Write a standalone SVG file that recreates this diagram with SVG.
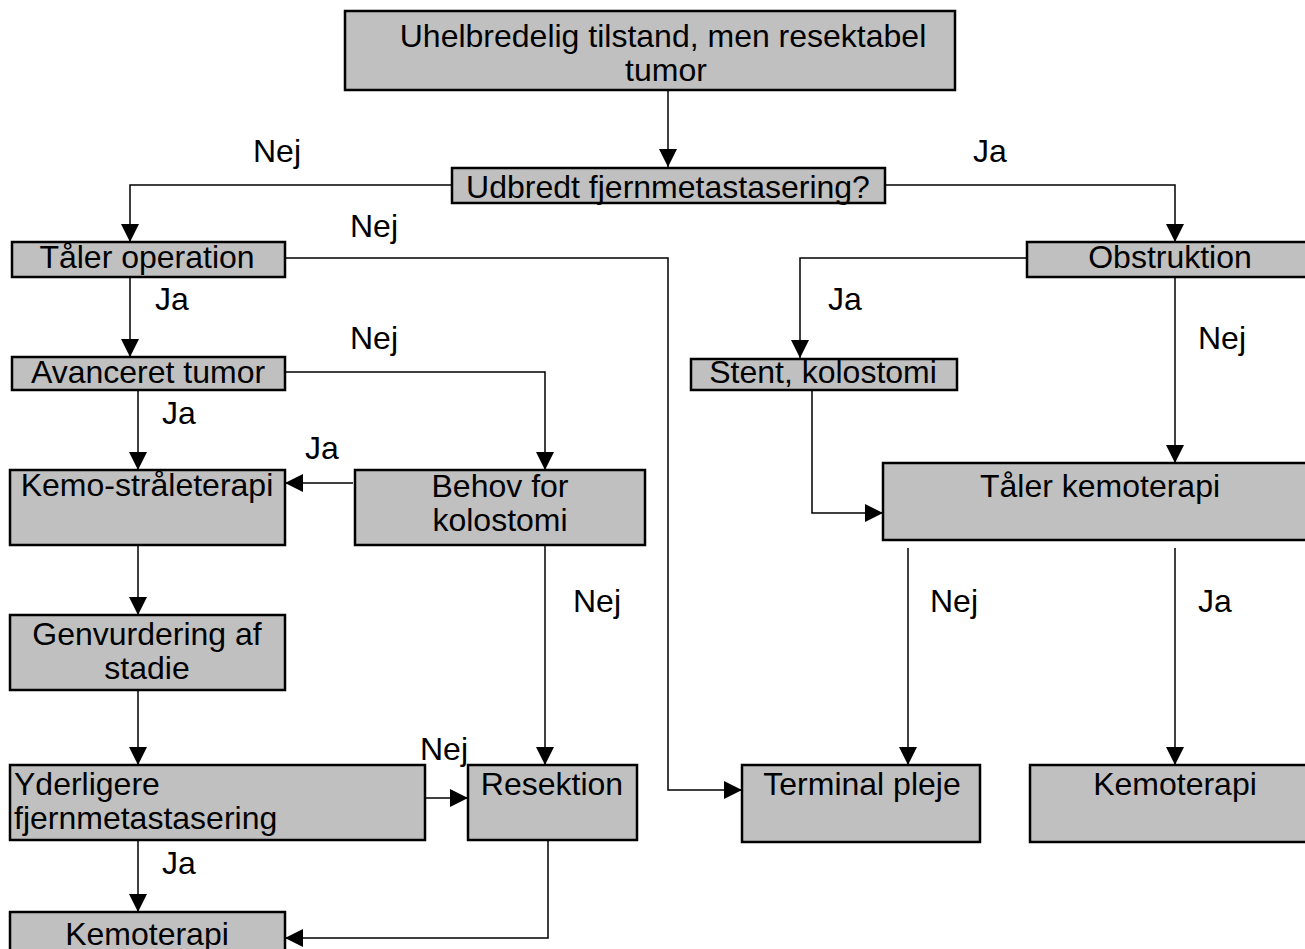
<svg xmlns="http://www.w3.org/2000/svg" width="1305" height="949" viewBox="0 0 1305 949">
<defs>
<marker id="ah" viewBox="0 0 10 10" refX="10" refY="5" markerWidth="18" markerHeight="18" markerUnits="userSpaceOnUse" orient="auto">
<path d="M0,0 L10,5 L0,10 z" fill="#000"/>
</marker>
<style>
.box{fill:#c0c0c0;stroke:#000;stroke-width:2.5}
.t{font-family:"Liberation Sans",Arial,sans-serif;font-size:32px;fill:#000}
.c{text-anchor:middle}
.ln{fill:none;stroke:#000;stroke-width:1.5;marker-end:url(#ah)}
</style>
</defs>
<rect width="1305" height="949" fill="#fff"/>
<g id="connectors">
<path class="ln" d="M668,90 V167"/>
<path class="ln" d="M452,185 H130 V242"/>
<path class="ln" d="M885,185 H1175 V242"/>
<path class="ln" d="M285,258 H668 V790 H742"/>
<path class="ln" d="M1027,258 H800 V358"/>
<path class="ln" d="M1175,277 V463"/>
<path class="ln" d="M812,390 V513 H883"/>
<path class="ln" d="M908,548 V765"/>
<path class="ln" d="M1175,548 V765"/>
<path class="ln" d="M130,277 V357"/>
<path class="ln" d="M285,372 H545 V470"/>
<path class="ln" d="M138,390 V470"/>
<path class="ln" d="M353,483 H285"/>
<path class="ln" d="M138,545 V615"/>
<path class="ln" d="M138,690 V765"/>
<path class="ln" d="M545,545 V765"/>
<path class="ln" d="M422,798 H468"/>
<path class="ln" d="M138,840 V912"/>
<path class="ln" d="M548,840 V938 H285"/>
</g>
<g id="labels">
<text class="t" x="253" y="162">Nej</text>
<text class="t" x="973" y="162">Ja</text>
<text class="t" x="350" y="237">Nej</text>
<text class="t" x="155" y="310">Ja</text>
<text class="t" x="350" y="349">Nej</text>
<text class="t" x="828" y="310">Ja</text>
<text class="t" x="1198" y="349">Nej</text>
<text class="t" x="162" y="424">Ja</text>
<text class="t" x="305" y="459">Ja</text>
<text class="t" x="573" y="612">Nej</text>
<text class="t" x="930" y="612">Nej</text>
<text class="t" x="1198" y="612">Ja</text>
<text class="t" x="420" y="760">Nej</text>
<text class="t" x="162" y="874">Ja</text>
</g>
<g id="n-top"><rect class="box" x="345" y="11" width="610" height="79"/><text class="t c" x="663" y="47">Uhelbredelig tilstand, men resektabel</text><text class="t c" x="666" y="81">tumor</text></g>
<g id="n-udbredt"><rect class="box" x="452" y="168" width="433" height="35"/><text class="t c" x="668" y="198">Udbredt fjernmetastasering?</text></g>
<g id="n-taler-op"><rect class="box" x="12" y="242" width="273" height="35"/><text class="t c" x="147" y="268">Tåler operation</text></g>
<g id="n-obstruktion"><rect class="box" x="1027" y="242" width="290" height="35"/><text class="t c" x="1170" y="268">Obstruktion</text></g>
<g id="n-avanceret"><rect class="box" x="12" y="357" width="273" height="33"/><text class="t c" x="148" y="383">Avanceret tumor</text></g>
<g id="n-stent"><rect class="box" x="691" y="359" width="266" height="31"/><text class="t c" x="823" y="383">Stent, kolostomi</text></g>
<g id="n-kemostraale"><rect class="box" x="10" y="470" width="275" height="75"/><text class="t c" x="147" y="496">Kemo-stråleterapi</text></g>
<g id="n-behov"><rect class="box" x="355" y="470" width="290" height="75"/><text class="t c" x="500" y="497">Behov for</text><text class="t c" x="500" y="531">kolostomi</text></g>
<g id="n-taler-kemo"><rect class="box" x="883" y="463" width="430" height="77"/><text class="t c" x="1100" y="497">Tåler kemoterapi</text></g>
<g id="n-genvurdering"><rect class="box" x="10" y="615" width="275" height="75"/><text class="t c" x="147" y="645">Genvurdering af</text><text class="t c" x="147" y="679">stadie</text></g>
<g id="n-yderligere"><rect class="box" x="10" y="765" width="415" height="75"/><text class="t" x="14" y="795">Yderligere</text><text class="t" x="14" y="829">fjernmetastasering</text></g>
<g id="n-resektion"><rect class="box" x="468" y="765" width="169" height="75"/><text class="t c" x="552" y="795">Resektion</text></g>
<g id="n-terminal"><rect class="box" x="742" y="765" width="238" height="77"/><text class="t c" x="862" y="795">Terminal pleje</text></g>
<g id="n-kemo-right"><rect class="box" x="1030" y="765" width="290" height="77"/><text class="t c" x="1175" y="795">Kemoterapi</text></g>
<g id="n-kemo-left"><rect class="box" x="10" y="912" width="275" height="50"/><text class="t c" x="147" y="945">Kemoterapi</text></g>
</svg>
